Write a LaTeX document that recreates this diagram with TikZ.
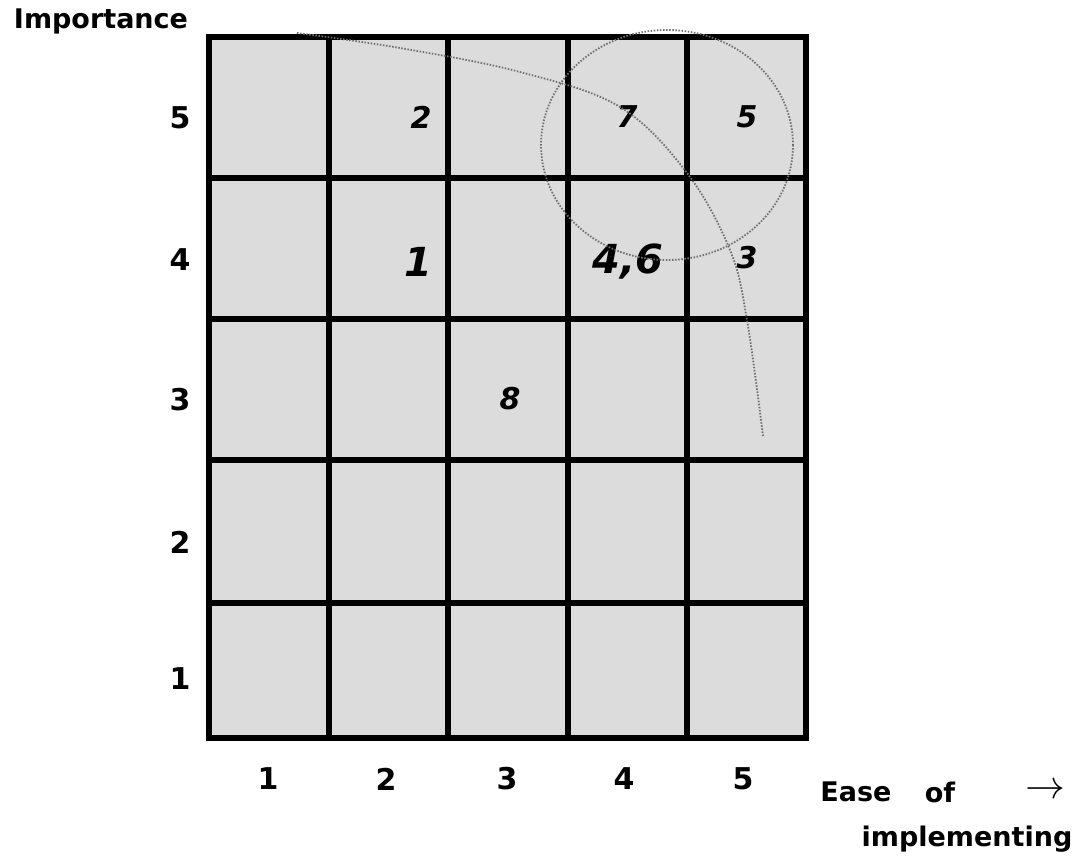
\documentclass[tikz,border=0pt]{standalone}
\usepackage{fontspec}
\setmainfont{DejaVu Sans}
\definecolor{cellfill}{HTML}{DCDCDC}
\definecolor{dotgray}{HTML}{6E6E6E}
\begin{document}
\begin{tikzpicture}[x=1pt,y=-1pt,
  axisnum/.style={font=\bfseries\fontsize{30}{30}\selectfont, inner sep=0pt},
  axistitle/.style={font=\bfseries\fontsize{27}{27}\selectfont, inner sep=0pt},
  cellnum/.style={font=\bfseries\itshape\fontsize{30}{30}\selectfont, inner sep=0pt},
  bignum/.style={font=\bfseries\itshape\fontsize{40}{40}\selectfont, inner sep=0pt},
  gridline/.style={line width=5.5pt},
  dottedline/.style={draw=dotgray, line width=1.8pt, dash pattern=on 1.5pt off 1.6pt}]
\useasboundingbox (0,0) rectangle (1078,858);
% cells
\fill[cellfill] (209,37) rectangle (806,738);
\foreach \x in {329,448,568,687} \draw[gridline] (\x,37) -- (\x,738);
\foreach \y in {178,319,460,603} \draw[gridline] (209,\y) -- (806,\y);
\draw[line width=6pt] (209,37) rectangle (806,738);
% axis labels
\node[axistitle] (imp) at (101,21) {Importance};
\node[axisnum] (y5) at (180,118) {5};
\node[axisnum] (y4) at (180,260) {4};
\node[axisnum] (y3) at (180,400) {3};
\node[axisnum] (y2) at (180,542) {2};
\node[axisnum] (y1) at (180,679) {1};
\node[axisnum] (x1) at (268,779) {1};
\node[axisnum] (x2) at (386,779) {2};
\node[axisnum] (x3) at (507,779) {3};
\node[axisnum] (x4) at (624,779) {4};
\node[axisnum] (x5) at (743,779) {5};
\node[axistitle] (ease) at (856,792) {Ease};
\node[axistitle] (of) at (940,792) {of};
\node[inner sep=0pt] (arr) at (1045,791) {\scalebox{1.6}{\fontsize{24}{24}\selectfont$\rightarrow$}};
\node[axistitle] (impl) at (967,839) {implementing};
% cell entries
\node[cellnum] (c2) at (421,117) {2};
\node[cellnum] (c7) at (627,117) {7};
\node[cellnum] (c5) at (747,117) {5};
\node[bignum] (c1) at (418,262) {1};
\node[bignum] (c46) at (628,262) {4,6};
\node[cellnum] (c3) at (747,258) {3};
\node[cellnum] (c8) at (510,399) {8};
% dotted marks
\draw[dottedline] (667,145) ellipse [x radius=126, y radius=115];
\draw[dottedline] plot[smooth, tension=0.6] coordinates {(297,33) (400,48) (520,72) (620,107) (687,173) (730,250) (747,320) (763,436)};
\end{tikzpicture}
\end{document}
